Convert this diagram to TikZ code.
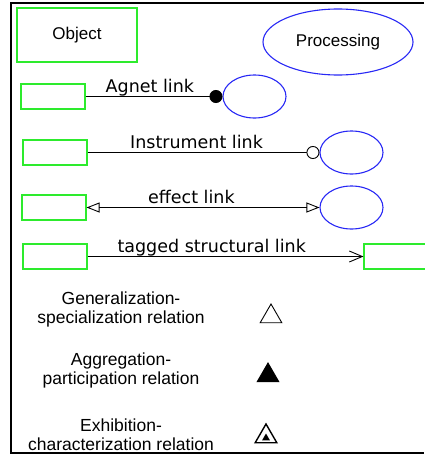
\documentclass[tikz,border=0pt]{standalone}
\usepackage{fontspec}
\setmainfont{Liberation Sans}
\newfontfamily\linkfont{DejaVu Sans}
\usetikzlibrary{arrows.meta, shapes.geometric}
\definecolor{objgreen}{RGB}{45,235,45}
\definecolor{procblue}{RGB}{40,40,245}

\tikzset{
  objbox/.style={draw=objgreen, line width=1.1pt, inner sep=0pt, minimum width=64pt, minimum height=25pt},
  procoval/.style={ellipse, draw=procblue, line width=1.1pt, inner sep=0pt, minimum width=63pt, minimum height=43pt},
  link/.style={draw=black, line width=0.9pt},
  linklabel/.style={anchor=base, yshift=4.5pt, inner sep=0pt, font=\linkfont\fontsize{17.5}{20}\selectfont},
  legendtext/.style={align=center, inner sep=0pt, font=\fontsize{17.5}{19}\selectfont},
  relsign/.style={regular polygon, regular polygon sides=3, draw=black, line width=0.9pt, inner sep=0pt, minimum size=25pt}
}

\begin{document}
\begin{tikzpicture}[x=1pt, y=-1pt]
        \useasboundingbox (0,0) rectangle (424,458);

        % frame
        \draw[line width=2.2pt] (424,3) -- (11,3) -- (11,453) -- (424,453);

        % Object and Processing
        \node[objbox, minimum width=120pt, minimum height=54pt, font=\fontsize{17}{20}\selectfont] (object) at (77,35) {Object};
        \node[procoval, minimum width=150pt, minimum height=66pt, font=\fontsize{17}{20}\selectfont] (processing) at (338,42) {Processing};

        % Agent link
        \node[objbox] (agentObj) at (53,96.5) {};
        \node[procoval] (agentProc) at (254.5,96.5) {};
        \draw[link, -{Circle[length=13pt]}] (agentObj) -- (agentProc) node[linklabel, pos=.47] {Agnet link};

        % Instrument link
        \node[objbox] (instObj) at (55,152.5) {};
        \node[procoval] (instProc) at (351.5,152.5) {};
        \draw[link, -{Circle[open, length=13pt, fill=white]}] (instObj) -- (instProc) node[linklabel, pos=.47] {Instrument link};

        % Effect link
        \node[objbox] (effObj) at (54,207.5) {};
        \node[procoval] (effProc) at (351.5,207.5) {};
        \draw[link, {Triangle[open, length=13pt, width=10pt]}-{Triangle[open, length=13pt, width=10pt]}] (effObj) -- (effProc) node[linklabel, pos=.45] {effect link};

        % Tagged structural link
        \node[objbox] (tagObj) at (55,256.5) {};
        \node[objbox] (tagTarget) at (396,256.5) {};
        \draw[link, -{Straight Barb[length=13pt, width=11pt]}] (tagObj) -- (tagTarget) node[linklabel, pos=.45] {tagged structural link};

        % Structural relations
        \node[legendtext] (genText) at (121,309) {Generalization-\\specialization relation};
        \node[relsign] (gen) at (271,316.5) {};

        \node[legendtext] (aggText) at (121,370) {Aggregation-\\participation relation};
        \node[relsign, fill=black] (agg) at (268,375.5) {};

        \node[legendtext] (exhText) at (121,435) {Exhibition-\\characterization relation};
        \node[relsign, line width=1.4pt] (exh) at (266,436.5) {};
        \node[regular polygon, regular polygon sides=3, fill=black, inner sep=0pt, minimum size=9pt] (exhInner) at (266,438) {};
    \end{tikzpicture}
\end{document}
